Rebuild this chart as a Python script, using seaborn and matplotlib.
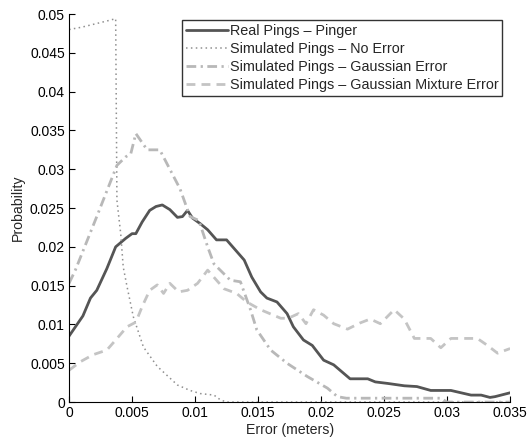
import numpy as np
import pandas as pd
import matplotlib
matplotlib.use('Agg')
import matplotlib.pyplot as plt
import seaborn as sns

# Real pings (pinger)
real_x = [0, 0.0011, 0.0017, 0.0022, 0.0030, 0.0037, 0.0045, 0.0050, 0.0053, 0.0058,
          0.0064, 0.0069, 0.0074, 0.0080, 0.0086, 0.0090, 0.0094, 0.0098, 0.0104, 0.0110,
          0.0117, 0.0125, 0.0132, 0.0139, 0.0145, 0.0152, 0.0157, 0.0165, 0.0173, 0.0178,
          0.0186, 0.0193, 0.0202, 0.0210, 0.0223, 0.0237, 0.0243, 0.0253, 0.0266, 0.0276,
          0.0287, 0.0303, 0.0319, 0.0327, 0.0334, 0.0338, 0.0350]
real_y = [0.0085, 0.0111, 0.0134, 0.0144, 0.0172, 0.0200, 0.0211, 0.0217, 0.0217, 0.0232,
          0.0247, 0.0252, 0.0254, 0.0248, 0.0238, 0.0239, 0.0247, 0.0237, 0.0230, 0.0222,
          0.0209, 0.0209, 0.0196, 0.0183, 0.0161, 0.0142, 0.0134, 0.0129, 0.0114, 0.0097,
          0.0080, 0.0073, 0.0054, 0.0048, 0.0030, 0.0030, 0.0026, 0.0024, 0.0021, 0.0020,
          0.0015, 0.0015, 0.0009, 0.0009, 0.0006, 0.0007, 0.0012]

# Simulated, no error
noerr_x = [0, 0.0010, 0.0020, 0.0030, 0.0037, 0.0038, 0.0041, 0.0043, 0.0046, 0.0051,
           0.0059, 0.0070, 0.0086, 0.0096, 0.0104, 0.0115, 0.0120, 0.0125, 0.0350]
noerr_y = [0.0480, 0.0483, 0.0487, 0.0491, 0.0494, 0.0260, 0.0217, 0.0174, 0.0149, 0.0110,
           0.0071, 0.0046, 0.0022, 0.0015, 0.0011, 0.0009, 0.0003, 0.0, 0.0]

# Simulated, gaussian error
gauss_x = [0, 0.0005, 0.0022, 0.0038, 0.0045, 0.0049, 0.0053, 0.0062, 0.0072, 0.0088,
           0.0096, 0.0103, 0.0110, 0.0115, 0.0128, 0.0136, 0.0144, 0.0149, 0.0160, 0.0173,
           0.0189, 0.0205, 0.0213, 0.0220, 0.0295, 0.0300, 0.0350]
gauss_y = [0.0153, 0.0170, 0.0239, 0.0305, 0.0316, 0.0320, 0.0346, 0.0325, 0.0325, 0.0275,
           0.0239, 0.0234, 0.0200, 0.0178, 0.0157, 0.0155, 0.0119, 0.0093, 0.0067, 0.0050,
           0.0033, 0.0018, 0.0007, 0.0005, 0.0005, 0.0, 0.0]

# Simulated, gaussian mixture error
mix_x = [0, 0.0009, 0.0019, 0.0030, 0.0037, 0.0046, 0.0053, 0.0058, 0.0064, 0.0070,
         0.0075, 0.0080, 0.0087, 0.0094, 0.0102, 0.0110, 0.0123, 0.0133, 0.0141, 0.0152,
         0.0168, 0.0174, 0.0182, 0.0188, 0.0194, 0.0202, 0.0210, 0.0221, 0.0231, 0.0239,
         0.0247, 0.0258, 0.0266, 0.0274, 0.0287, 0.0295, 0.0303, 0.0324, 0.0332, 0.0340,
         0.0350]
mix_y = [0.0041, 0.0052, 0.0061, 0.0067, 0.0080, 0.0097, 0.0103, 0.0123, 0.0144, 0.0151,
         0.0140, 0.0153, 0.0142, 0.0144, 0.0153, 0.0170, 0.0146, 0.0140, 0.0129, 0.0119,
         0.0108, 0.0108, 0.0114, 0.0101, 0.0119, 0.0112, 0.0101, 0.0094, 0.0102, 0.0107,
         0.0101, 0.0119, 0.0107, 0.0082, 0.0082, 0.0070, 0.0082, 0.0082, 0.0073, 0.0063,
         0.0069]

labels = ['Real Pings \u2013 Pinger',
          'Simulated Pings \u2013 No Error',
          'Simulated Pings \u2013 Gaussian Error',
          'Simulated Pings \u2013 Gaussian Mixture Error']

sns.set_style('ticks')
plt.rcParams['font.family'] = ['Liberation Sans', 'DejaVu Sans']

fig = plt.figure(figsize=(5.27, 4.38), dpi=100)
ax = fig.add_axes([0.131, 0.082, 0.837, 0.886])

series = [
    (real_x, real_y, labels[0], '#555555', 2.0, (None, None)),
    (noerr_x, noerr_y, labels[1], '#8f8f8f', 1.1, (1, 2.2)),
    (gauss_x, gauss_y, labels[2], '#b8b8b8', 2.0, (3.5, 1.6, 0.8, 1.6)),
    (mix_x, mix_y, labels[3], '#c4c4c4', 2.0, (3.2, 2.2)),
]
for xs, ys, lab, col, lw, dash in series:
    df = pd.DataFrame({'x': xs, 'y': ys})
    sns.lineplot(data=df, x='x', y='y', ax=ax, color=col, linewidth=lw,
                 label=lab, estimator=None, sort=False)
    if dash[0] is not None:
        ax.lines[-1].set_dashes(dash)

ax.set_xlim(0, 0.035)
ax.set_ylim(0, 0.05)
ax.set_xticks(np.arange(0, 0.0351, 0.005))
ax.set_yticks(np.arange(0, 0.0501, 0.005))
ax.set_xticklabels(['0', '0.005', '0.01', '0.015', '0.02', '0.025', '0.03', '0.035'])
ax.set_yticklabels(['0', '0.005', '0.01', '0.015', '0.02', '0.025', '0.03', '0.035',
                    '0.04', '0.045', '0.05'])
ax.tick_params(direction='in', length=4, width=0.8, labelsize=10, colors='black', pad=3)
ax.set_xlabel('Error (meters)', fontsize=10.2, labelpad=2)
ax.set_ylabel('Probability', fontsize=10.2, labelpad=4)
sns.despine(ax=ax)
for s in ['left', 'bottom']:
    ax.spines[s].set_linewidth(0.8)
    ax.spines[s].set_color('black')

leg = ax.legend(loc='upper right', bbox_to_anchor=(0.982, 0.984), fontsize=10.4,
                frameon=True, fancybox=False, handlelength=2.9, handletextpad=0.15,
                borderpad=0.25, labelspacing=0.28, borderaxespad=0)
leg.get_frame().set_edgecolor('black')
leg.get_frame().set_linewidth(1.0)

fig.savefig('out.png', dpi=100)
